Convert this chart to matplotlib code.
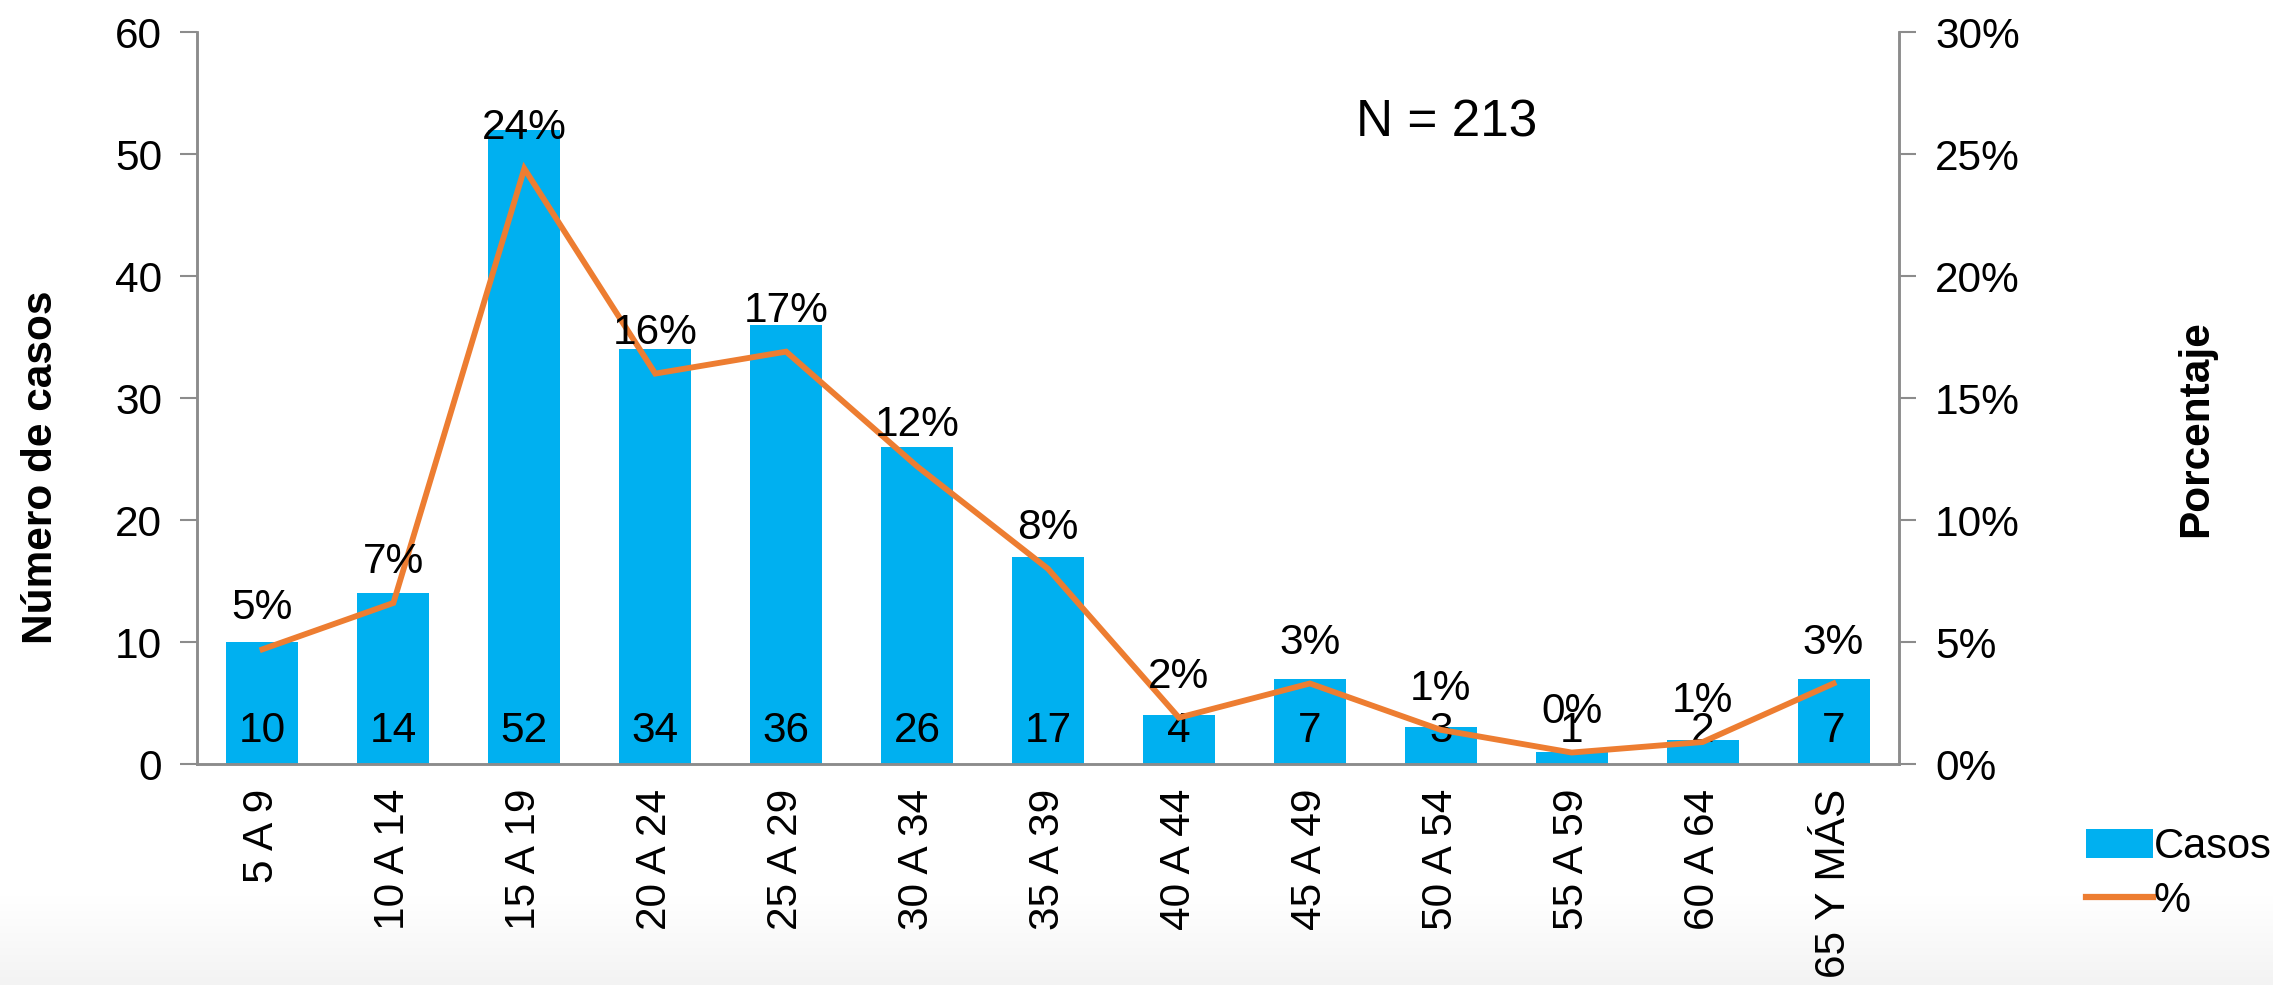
import matplotlib
matplotlib.use("Agg")
import matplotlib.pyplot as plt
import numpy as np
from matplotlib.lines import Line2D
from matplotlib.patches import Patch

plt.rcParams['font.family'] = ['Liberation Sans', 'DejaVu Sans']

categories = ["5 A 9", "10 A 14", "15 A 19", "20 A 24", "25 A 29", "30 A 34", "35 A 39",
              "40 A 44", "45 A 49", "50 A 54", "55 A 59", "60 A 64", "65 Y MÁS"]
casos = [10, 14, 52, 34, 36, 26, 17, 4, 7, 3, 1, 2, 7]
porcentaje = [4.7, 6.6, 24.4, 16.0, 16.9, 12.2, 8.0, 1.9, 3.3, 1.4, 0.47, 0.9, 3.3]
left_ticks = [0, 10, 20, 30, 40, 50, 60]
right_ticks = [0, 5, 10, 15, 20, 25, 30]

BAR = '#00B0F0'
LINE = '#ED7D31'
SPINE = '#8C8C8C'
FS = 30.5

W, H = 2273, 985
fig = plt.figure(figsize=(W / 100, H / 100), dpi=100)

# subtle gray gradient at the bottom
bg = fig.add_axes([0, 0, 1, 0.09], zorder=-10)
grad = np.linspace(0, 1, 100).reshape(-1, 1)
bg.imshow(grad, aspect='auto', cmap=matplotlib.colors.LinearSegmentedColormap.from_list(
    'g', ['#f3f3f3', '#ffffff']), origin='lower', extent=[0, 1, 0, 1])
bg.axis('off')

l, r = 197 / W, 1899 / W
t, b = 1 - 32 / H, 1 - 764 / H
ax = fig.add_axes([l, b, r - l, t - b])
ax2 = ax.twinx()

x = np.arange(len(categories))
ax.bar(x, casos, width=0.55, color=BAR, zorder=2)
ax.set_xlim(-0.5, len(categories) - 0.5)
ax.set_ylim(0, 60)
ax.set_yticks(left_ticks)
ax.set_xticks(x)
ax.set_xticklabels(categories, rotation=90, fontsize=FS)
ax.tick_params(axis='x', length=0, pad=18)
ax.tick_params(axis='y', labelsize=FS, length=12, width=1.5, color=SPINE, direction='out', pad=13)

ax2.plot(x, porcentaje, color=LINE, lw=4.2, zorder=3, solid_joinstyle='miter')
ax2.set_ylim(0, 30)
ax2.set_yticks(right_ticks)
ax2.set_yticklabels([f"{v}%" for v in right_ticks])
ax2.tick_params(axis='y', labelsize=FS, length=12, width=1.5, color=SPINE, direction='out', pad=14)

for a in (ax, ax2):
    a.spines['top'].set_visible(False)
    for s in ('left', 'right', 'bottom'):
        a.spines[s].set_color(SPINE)
        a.spines[s].set_linewidth(1.8)
    a.patch.set_visible(False)

# count labels near the base
for xi, c in zip(x, casos):
    ax.annotate(str(c), (xi, 0), xytext=(0, 24), textcoords='offset points',
                ha='center', va='center', fontsize=FS, zorder=5)

# percentage labels above line points
for xi, p in zip(x, porcentaje):
    ax2.annotate(f"{p:.0f}%", (xi, p), xytext=(0, 29.5), textcoords='offset points',
                 ha='center', va='center', fontsize=FS, zorder=5)

ax.text(0.734, 0.876, "N = 213", transform=ax.transAxes, ha='center', va='center', fontsize=37)

fig.text(41 / W, 1 - 467 / H, "Número de casos", rotation=90, ha='center', va='center',
         fontsize=FS, fontweight='bold')
fig.text(2196 / W, 1 - 429 / H, "Porcentaje", rotation=90, ha='center', va='center',
         fontsize=FS, fontweight='bold')

handles = [Patch(facecolor=BAR, edgecolor='none'), Line2D([], [], color=LINE, lw=4.5)]
fig.legend(handles, ["Casos", "%"], loc='center left', bbox_to_anchor=(2086 / W, 1 - 874 / H),
           frameon=False, fontsize=30, handlelength=1.6, handletextpad=0.02, labelspacing=0.32,
           borderpad=0, borderaxespad=0)

fig.savefig("out.png", dpi=100)
